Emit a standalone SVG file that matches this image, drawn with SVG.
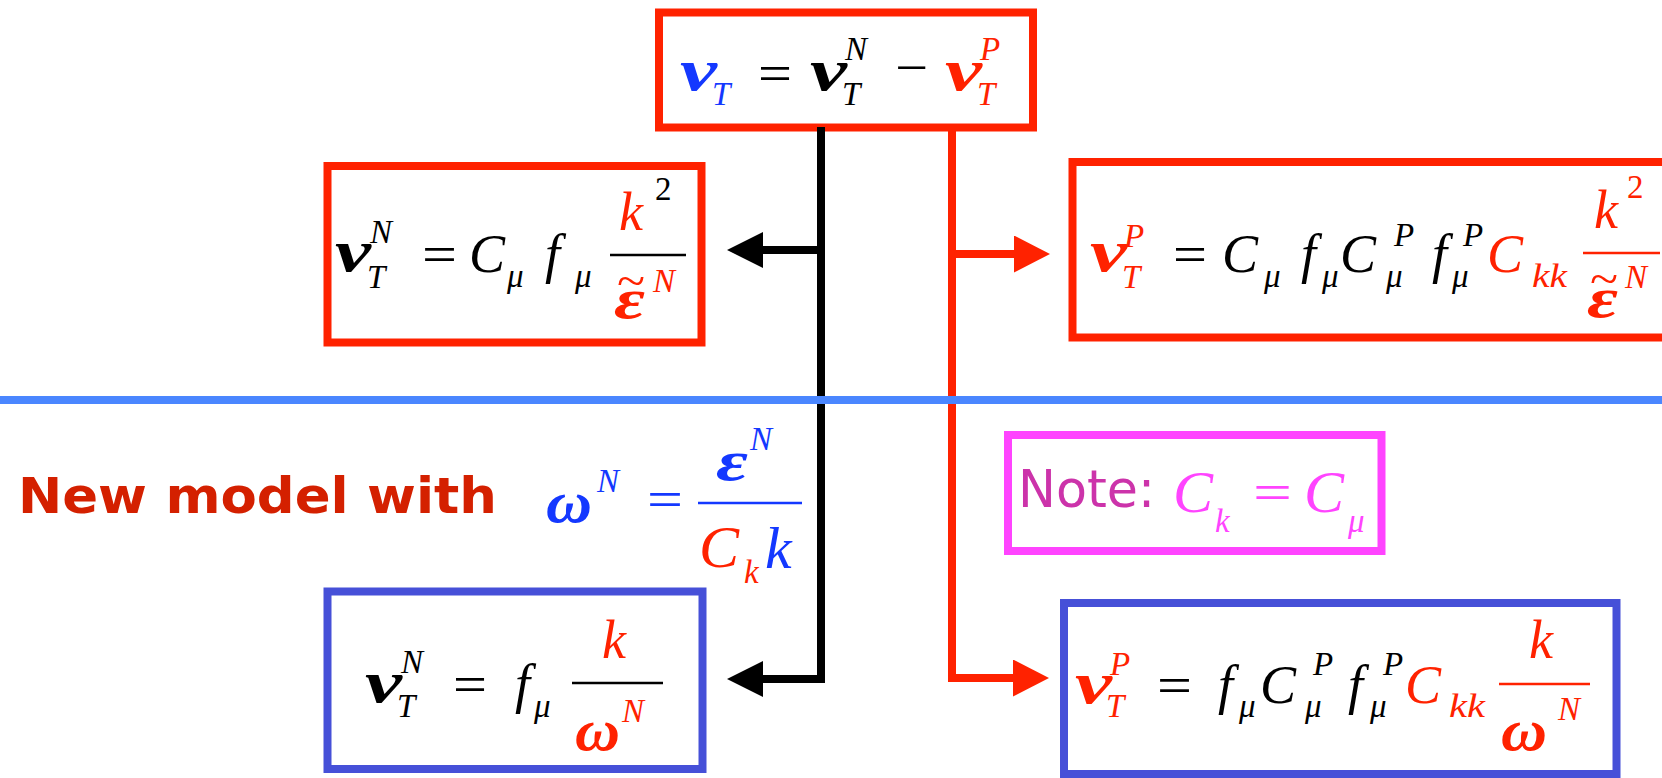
<svg xmlns="http://www.w3.org/2000/svg" width="1662" height="778" viewBox="0 0 1662 778">
<style>
.mi{font-family:"Liberation Serif",serif;font-style:italic;font-size:54px}
.ml{font-family:"Liberation Serif",serif;font-style:italic;font-size:60px}
.gr{font-family:"Liberation Serif",serif;font-style:italic;font-weight:bold;font-size:60px}
.ep{font-family:"Liberation Serif",serif;font-style:italic;font-weight:bold;font-size:56px}
.sb{font-family:"Liberation Serif",serif;font-style:italic;font-size:33px}
.op{font-family:"Liberation Serif",serif;font-size:52px}
.nm{font-family:"Liberation Serif",serif;font-size:33px}
.td{font-family:"Liberation Serif",serif;font-size:46px}
.k{fill:#000}.r{fill:#ff2200}.b{fill:#1438ff}.p{fill:#ff44ff}
.box{fill:#fff;stroke-width:8}
.rb{stroke:#ff2200}.bb{stroke:#4650d8}.pb{stroke:#ff44ff}
.fl{stroke-width:2.5}
.conn{fill:none;stroke-width:8;stroke-linejoin:miter}
</style>
<defs>
<marker id="ak" markerUnits="userSpaceOnUse" markerWidth="36" markerHeight="36" viewBox="0 0 36 36" refX="0" refY="18" orient="auto"><path d="M0,0 L36,18 L0,36 z" fill="#000"/></marker>
<marker id="ar" markerUnits="userSpaceOnUse" markerWidth="36" markerHeight="37" viewBox="0 0 36 37" refX="0" refY="18.5" orient="auto"><path d="M0,0 L36,18.5 L0,37 z" fill="#ff2200"/></marker>
</defs>
<rect width="1662" height="778" fill="#fff"/>

<g id="top">
<rect class="box rb" x="659" y="12.5" width="374" height="115"/>
<text class="gr b" x="680" y="90" textLength="37" lengthAdjust="spacingAndGlyphs">ν</text>
<text class="sb b" x="712" y="105">T</text>
<text class="op k" x="758" y="91" textLength="34" lengthAdjust="spacingAndGlyphs">=</text>
<text class="gr k" x="810" y="90" textLength="37" lengthAdjust="spacingAndGlyphs">ν</text>
<text class="sb k" x="845" y="60">N</text>
<text class="sb k" x="842" y="105">T</text>
<text class="op k" x="895" y="85" textLength="33" lengthAdjust="spacingAndGlyphs">−</text>
<text class="gr r" x="945" y="90" textLength="37" lengthAdjust="spacingAndGlyphs">ν</text>
<text class="sb r" x="980" y="60">P</text>
<text class="sb r" x="977" y="105">T</text>
</g>

<g id="nuN-std">
<rect class="box rb" x="327.5" y="166" width="374" height="176.5"/>
<text class="gr k" x="335" y="271" textLength="36" lengthAdjust="spacingAndGlyphs">ν</text>
<text class="sb k" x="370" y="243">N</text>
<text class="sb k" x="367" y="288">T</text>
<text class="op k" x="422" y="272" textLength="35" lengthAdjust="spacingAndGlyphs">=</text>
<text class="mi k" x="469" y="272">C</text>
<text class="sb k" x="507" y="287">μ</text>
<text class="mi k" x="545" y="272">f</text>
<text class="sb k" x="575" y="287">μ</text>
<line class="fl" x1="610" y1="255" x2="686" y2="255" stroke="#000"/>
<text class="mi r" x="619" y="230">k</text>
<text class="nm k" x="655" y="200">2</text>
<text class="td r" x="617" y="296" textLength="28" lengthAdjust="spacingAndGlyphs">~</text>
<text class="ep r" x="614" y="318" textLength="31" lengthAdjust="spacingAndGlyphs">ε</text>
<text class="sb r" x="653" y="292">N</text>
</g>

<g id="nuP-std">
<rect class="box rb" x="1072.5" y="162" width="600" height="175.5"/>
<text class="gr r" x="1090" y="271" textLength="37" lengthAdjust="spacingAndGlyphs">ν</text>
<text class="sb r" x="1124" y="247">P</text>
<text class="sb r" x="1122" y="288">T</text>
<text class="op k" x="1173" y="272" textLength="34" lengthAdjust="spacingAndGlyphs">=</text>
<text class="mi k" x="1222" y="272">C</text>
<text class="sb k" x="1264" y="287">μ</text>
<text class="mi k" x="1301" y="272">f</text>
<text class="sb k" x="1322" y="287">μ</text>
<text class="mi k" x="1340" y="272">C</text>
<text class="sb k" x="1394" y="246">P</text>
<text class="sb k" x="1386" y="287">μ</text>
<text class="mi k" x="1432" y="272">f</text>
<text class="sb k" x="1463" y="246">P</text>
<text class="sb k" x="1452" y="287">μ</text>
<text class="mi r" x="1487" y="272">C</text>
<text class="sb r" x="1532" y="287" textLength="35" lengthAdjust="spacingAndGlyphs">kk</text>
<line class="fl" x1="1583" y1="253" x2="1660" y2="253" stroke="#ff2200"/>
<text class="mi r" x="1594" y="228">k</text>
<text class="nm r" x="1627" y="198">2</text>
<text class="td r" x="1590" y="294" textLength="28" lengthAdjust="spacingAndGlyphs">~</text>
<text class="ep r" x="1587" y="317" textLength="31" lengthAdjust="spacingAndGlyphs">ε</text>
<text class="sb r" x="1625" y="288">N</text>
</g>

<g id="connectors">
<path class="conn" stroke="#000" d="M821,127 V679 H763" marker-end="url(#ak)"/>
<path class="conn" stroke="#000" d="M821,250 H763" marker-end="url(#ak)"/>
<path class="conn" stroke="#ff2200" d="M952,128 V678 H1013" marker-end="url(#ar)"/>
<path class="conn" stroke="#ff2200" d="M952,254 H1014" marker-end="url(#ar)"/>
</g>

<line id="divider" x1="0" y1="400" x2="1662" y2="400" stroke="#4a86ff" stroke-width="8"/>

<g id="label">
<text x="18" y="513" font-family="'DejaVu Sans',sans-serif" font-weight="bold" font-size="50" fill="#d42000" textLength="479" lengthAdjust="spacingAndGlyphs">New model with</text>
</g>

<g id="omega-def">
<text class="gr b" x="546" y="522" textLength="46" lengthAdjust="spacingAndGlyphs">ω</text>
<text class="sb b" x="597" y="492" font-size="36">N</text>
<text class="op b" x="647" y="517" textLength="36" lengthAdjust="spacingAndGlyphs">=</text>
<line class="fl" x1="698" y1="503" x2="802" y2="503" stroke="#1438ff"/>
<text class="ep b" x="716" y="480" textLength="32" lengthAdjust="spacingAndGlyphs">ε</text>
<text class="sb b" x="750" y="450">N</text>
<text class="ml r" x="699" y="567">C</text>
<text class="sb r" x="744" y="583">k</text>
<text class="ml b" x="765" y="568">k</text>
</g>

<g id="note">
<rect class="box pb" x="1008" y="435" width="373.5" height="116"/>
<text x="1018" y="507" font-family="'DejaVu Sans',sans-serif" font-size="52" fill="#cc33aa" textLength="137" lengthAdjust="spacingAndGlyphs">Note:</text>
<text class="ml p" x="1173" y="512">C</text>
<text class="sb p" x="1215" y="532">k</text>
<text class="op p" x="1253" y="510" textLength="39" lengthAdjust="spacingAndGlyphs">=</text>
<text class="ml p" x="1304" y="512">C</text>
<text class="sb p" x="1348" y="532">μ</text>
</g>

<g id="nuN-new">
<rect class="box bb" x="327.5" y="591.5" width="375" height="177.5"/>
<text class="gr k" x="365" y="702" textLength="37" lengthAdjust="spacingAndGlyphs">ν</text>
<text class="sb k" x="401" y="673">N</text>
<text class="sb k" x="397" y="717">T</text>
<text class="op k" x="453" y="702" textLength="34" lengthAdjust="spacingAndGlyphs">=</text>
<text class="mi k" x="515" y="702">f</text>
<text class="sb k" x="534" y="717">μ</text>
<line class="fl" x1="572" y1="683" x2="663" y2="683" stroke="#000"/>
<text class="mi r" x="602" y="658">k</text>
<text class="gr r" x="575" y="750" textLength="45" lengthAdjust="spacingAndGlyphs">ω</text>
<text class="sb r" x="622" y="722">N</text>
</g>

<g id="nuP-new">
<rect class="box bb" x="1064" y="603" width="552.5" height="171"/>
<text class="gr r" x="1075" y="703" textLength="37" lengthAdjust="spacingAndGlyphs">ν</text>
<text class="sb r" x="1110" y="675">P</text>
<text class="sb r" x="1106" y="717">T</text>
<text class="op k" x="1157" y="703" textLength="35" lengthAdjust="spacingAndGlyphs">=</text>
<text class="mi k" x="1218" y="703">f</text>
<text class="sb k" x="1239" y="717">μ</text>
<text class="mi k" x="1260" y="703">C</text>
<text class="sb k" x="1313" y="675">P</text>
<text class="sb k" x="1305" y="717">μ</text>
<text class="mi k" x="1348" y="703">f</text>
<text class="sb k" x="1383" y="675">P</text>
<text class="sb k" x="1370" y="717">μ</text>
<text class="mi r" x="1405" y="703">C</text>
<text class="sb r" x="1449" y="717" textLength="36" lengthAdjust="spacingAndGlyphs">kk</text>
<line class="fl" x1="1499" y1="684" x2="1590" y2="684" stroke="#ff2200"/>
<text class="mi r" x="1529" y="658">k</text>
<text class="gr r" x="1501" y="750" textLength="46" lengthAdjust="spacingAndGlyphs">ω</text>
<text class="sb r" x="1558" y="720">N</text>
</g>
</svg>
